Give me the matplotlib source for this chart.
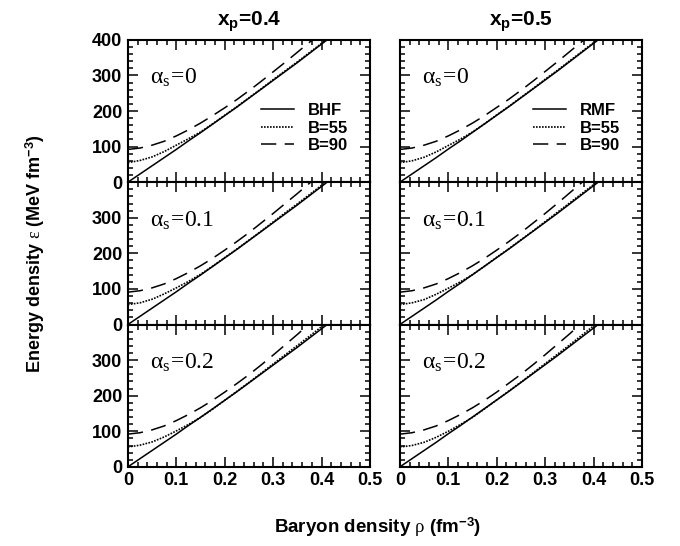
"""Energy density vs baryon density: hadronic EoS against quark matter (bag B=55, B=90)
for two proton fractions and three values of the strong coupling."""
import matplotlib.pyplot as plt
from matplotlib.ticker import MultipleLocator

plt.rcParams["mathtext.fontset"] = "custom"
plt.rcParams["mathtext.rm"] = "Liberation Serif"
plt.rcParams["mathtext.it"] = "Liberation Serif:italic"
plt.rcParams["mathtext.bf"] = "Liberation Sans:bold"
plt.rcParams["font.family"] = "Liberation Sans"

# baryon density grid (fm^-3)
RHO = [0.0, 0.025, 0.05, 0.075, 0.1, 0.125, 0.15, 0.175, 0.2, 0.225,
       0.25, 0.275, 0.3, 0.325, 0.35, 0.375, 0.4, 0.425, 0.45]

# hadronic energy density (MeV fm^-3), same for every alpha_s row
bhf = [0, 23, 46, 69, 92, 116, 139, 163, 187, 211,
       236, 261, 286, 311, 336, 362, 388, 414, 441]
rmf = [0, 23, 46, 69, 93, 116, 140, 164, 188, 212,
       237, 262, 287, 312, 338, 364, 390, 416, 443]

# quark matter, B=55 and B=90, per alpha_s (0, 0.1, 0.2), x_p=0.4
b55_04 = [
    [55, 61, 71, 86, 104, 122, 141, 164, 188, 212, 237, 262, 288, 313, 338, 364, 390, 417, 444],
    [56, 61, 71, 86, 103, 121, 141, 164, 188, 212, 237, 262, 288, 314, 339, 365, 391, 418, 445],
    [56, 61, 70, 84, 101, 119, 139, 162, 187, 212, 237, 263, 289, 315, 341, 367, 394, 421, 448],
]
b90_04 = [
    [92, 96, 104, 115, 130, 147, 166, 187, 209, 232, 257, 283, 310, 337, 365, 393, 421, 449, 478],
    [91, 95, 103, 114, 129, 146, 165, 186, 209, 233, 258, 285, 312, 340, 368, 397, 426, 455, 485],
    [92, 96, 104, 115, 130, 147, 166, 187, 210, 234, 259, 286, 314, 343, 372, 402, 432, 462, 493],
]
# x_p=0.5
b55_05 = [
    [55, 60, 70, 85, 103, 121, 141, 164, 189, 213, 238, 263, 289, 314, 340, 366, 392, 419, 446],
    [56, 61, 70, 85, 102, 120, 140, 164, 189, 213, 238, 263, 289, 315, 341, 367, 393, 420, 447],
    [56, 60, 69, 83, 100, 119, 139, 163, 188, 213, 238, 264, 290, 316, 342, 369, 396, 423, 450],
]
b90_05 = [
    [92, 96, 104, 115, 130, 147, 166, 187, 210, 233, 258, 284, 311, 338, 366, 394, 423, 452, 481],
    [91, 95, 103, 114, 129, 146, 165, 186, 209, 233, 258, 285, 312, 340, 369, 398, 427, 457, 487],
    [92, 96, 104, 115, 130, 147, 166, 187, 210, 235, 260, 287, 315, 344, 373, 403, 433, 464, 495],
]

alphas = ["0", "0.1", "0.2"]
columns = [
    ("0.4", "BHF", bhf, b55_04, b90_04),
    ("0.5", "RMF", rmf, b55_05, b90_05),
]

fig = plt.figure(figsize=(6.8, 5.46), dpi=100)

left0, width, gap = 0.188, 0.356, 0.044
top, ph = 0.927, 0.2607

for c, (xp, model, had, q55, q90) in enumerate(columns):
    x0 = left0 + c * (width + gap)
    for r in range(3):
        ax = fig.add_axes([x0, top - (r + 1) * ph, width, ph])
        ax.plot(RHO, had, color="black", lw=1.1, label=model)
        ax.plot(RHO, q55[r], color="black", lw=1.2, ls=(0, (1, 0.8)), label="B=55")
        ax.plot(RHO, q90[r], color="black", lw=1.1, ls=(0, (10, 5.5)), label="B=90")

        ax.set_xlim(0, 0.5)
        ax.set_ylim(0, 400)
        ax.xaxis.set_major_locator(MultipleLocator(0.1))
        ax.xaxis.set_minor_locator(MultipleLocator(0.02))
        ax.yaxis.set_major_locator(MultipleLocator(100))
        ax.yaxis.set_minor_locator(MultipleLocator(20))
        ax.tick_params(which="both", direction="in", top=True, right=True, width=1.1)
        ax.tick_params(which="major", length=7, labelsize=13, pad=4)
        ax.tick_params(which="minor", length=3.5)
        for s in ax.spines.values():
            s.set_linewidth(1.5)

        if r < 2:
            ax.tick_params(labelbottom=False)
        else:
            ax.set_xticks([0, 0.1, 0.2, 0.3, 0.4, 0.5])
            ax.set_xticklabels(["0", "0.1", "0.2", "0.3", "0.4", "0.5"], fontweight="bold")
        if c == 1:
            ax.tick_params(labelleft=False)
        else:
            ticks = [0, 100, 200, 300, 400] if r == 0 else [0, 100, 200, 300]
            ax.set_yticks(ticks)
            ax.set_yticklabels([str(t) for t in ticks], fontweight="bold")

        ax.text(0.045, 292, r"$\mathrm{\alpha_s\!=\!" + alphas[r] + "}$",
                fontsize=17, va="center", ha="left")

        if r == 0:
            ax.legend(loc="upper right", bbox_to_anchor=(0.97, 0.66), frameon=False,
                      handlelength=2.0, handletextpad=0.8, labelspacing=0.15,
                      prop={"weight": "bold", "size": 12})
            ax.set_title(r"x$_{\mathbf{p}}$=" + xp, fontsize=15, fontweight="bold", pad=10)

fig.text(0.052, 0.536, r"Energy density $\mathrm{\varepsilon}$ (MeV fm$^{\mathbf{-3}}$)",
         rotation=90, ha="center", va="center", fontsize=13, fontweight="bold")
fig.text(0.556, 0.035, r"Baryon density $\mathrm{\rho}$ (fm$^{\mathbf{-3}}$)",
         ha="center", va="center", fontsize=13.5, fontweight="bold")

fig.savefig("out.png", dpi=100)
